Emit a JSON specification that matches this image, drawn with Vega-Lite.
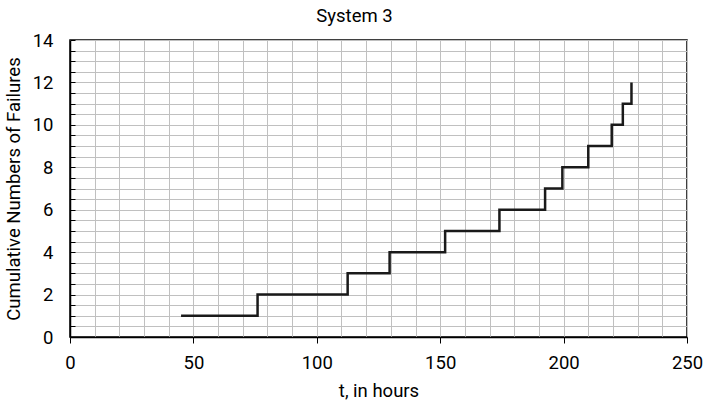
{
  "$schema": "https://vega.github.io/schema/vega-lite/v6.json",
  "width": 617,
  "height": 297,
  "autosize": {"type": "none"},
  "padding": {"left": 70, "top": 40, "right": 16, "bottom": 66},
  "title": {"text": "System 3", "font": "Roboto", "fontSize": 18.5, "fontWeight": "normal", "color": "#000", "offset": 6, "dx": -24},
  "config": {
    "view": {"stroke": "#000", "strokeWidth": 1.5},
    "axis": {"labelFont": "Roboto", "titleFont": "Roboto", "labelFontSize": 18.5, "titleFontSize": 18.5, "titleFontWeight": "normal", "labelColor": "#000", "titleColor": "#000", "domainColor": "#000", "domainWidth": 1.5, "tickColor": "#000", "gridColor": "#c0c0c0", "gridWidth": 1, "gridOpacity": 1}
  },
  "data": {"values": [
    {"t": 45, "n": 1},
    {"t": 76, "n": 2},
    {"t": 112.5, "n": 3},
    {"t": 129.5, "n": 4},
    {"t": 152, "n": 5},
    {"t": 174, "n": 6},
    {"t": 192.5, "n": 7},
    {"t": 199.5, "n": 8},
    {"t": 210, "n": 9},
    {"t": 219.5, "n": 10},
    {"t": 224, "n": 11},
    {"t": 227.5, "n": 12}
  ]},
  "mark": {"type": "line", "interpolate": "step-after", "color": "#1a1a1a", "strokeWidth": 2.5},
  "encoding": {
    "x": {"field": "t", "type": "quantitative", "scale": {"domain": [0, 250], "nice": false},
      "axis": {"title": "t, in hours", "values": [0,10,20,30,40,50,60,70,80,90,100,110,120,130,140,150,160,170,180,190,200,210,220,230,240,250],
        "labelExpr": "datum.value % 50 === 0 ? format(datum.value, 'd') : ''",
        "tickOpacity": {"condition": {"test": "datum.value % 50 === 0", "value": 1}, "value": 0},
        "tickSize": 6, "labelPadding": 10, "titlePadding": 10, "labelFlush": false, "labelOverlap": false}},
    "y": {"field": "n", "type": "quantitative", "scale": {"domain": [0, 14], "nice": false},
      "axis": {"title": "Cumulative Numbers of Failures", "values": [0,0.5,1,1.5,2,2.5,3,3.5,4,4.5,5,5.5,6,6.5,7,7.5,8,8.5,9,9.5,10,10.5,11,11.5,12,12.5,13,13.5,14],
        "labelExpr": "datum.value % 2 === 0 ? format(datum.value, 'd') : ''",
        "tickSize": -5, "labelPadding": 22, "titlePadding": 9, "labelFlush": false, "labelOverlap": false}}
  }
}
